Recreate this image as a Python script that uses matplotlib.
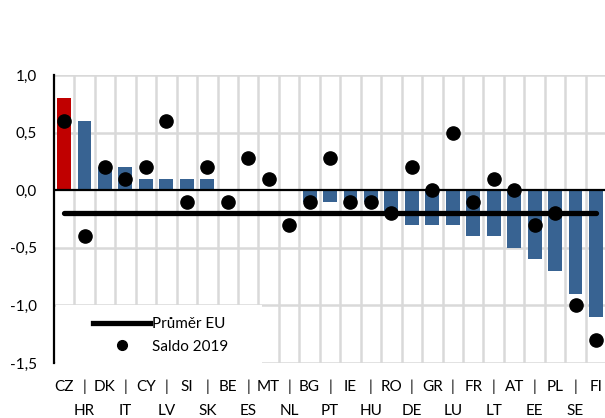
import numpy as np
import matplotlib
matplotlib.use('Agg')
import matplotlib.pyplot as plt
from matplotlib.lines import Line2D
from matplotlib.patches import Rectangle

plt.rcParams['font.family'] = ['Lato', 'DejaVu Sans']

# Data
countries = ['CZ', 'HR', 'DK', 'IT', 'CY', 'LV', 'SI', 'SK', 'BE', 'ES',
             'MT', 'NL', 'BG', 'PT', 'IE', 'HU', 'RO', 'DE', 'GR', 'LU',
             'FR', 'LT', 'AT', 'EE', 'PL', 'SE', 'FI']
change = [0.8, 0.6, 0.2, 0.2, 0.1, 0.1, 0.1, 0.1, 0.0, 0.0,
          0.0, 0.0, -0.1, -0.1, -0.1, -0.1, -0.2, -0.3, -0.3, -0.3,
          -0.4, -0.4, -0.5, -0.6, -0.7, -0.9, -1.1]
saldo_2019 = [0.6, -0.4, 0.2, 0.1, 0.2, 0.6, -0.1, 0.2, -0.1, 0.28,
              0.1, -0.3, -0.1, 0.28, -0.1, -0.1, -0.2, 0.2, 0.0, 0.5,
              -0.1, 0.1, 0.0, -0.3, -0.2, -1.0, -1.3]
eu_avg = -0.2

blue = '#386392'
red = '#C00000'
grid_c = '#D9D9D9'

x = np.arange(len(countries))
colors = [red if c == 'CZ' else blue for c in countries]

fig = plt.figure(figsize=(6.05, 4.18), dpi=100)
ax = fig.add_axes([0.089, 0.1316, 0.913, 0.689])

ax.bar(x, change, width=0.68, color=colors, zorder=2)
ax.plot([x[0], x[-1]], [eu_avg, eu_avg], color='black', lw=3.8,
        solid_capstyle='round', zorder=3)
ax.plot(x, saldo_2019, 'o', color='black', ms=9.5, zorder=4)
ax.axhline(0, color='black', lw=1.6, zorder=3)

ax.set_xlim(-0.5, len(countries) - 0.5)
ax.set_ylim(-1.5, 1.0)
ax.set_yticks([1.0, 0.5, 0.0, -0.5, -1.0, -1.5])
ax.set_yticklabels(['1,0', '0,5', '0,0', '-0,5', '-1,0', '-1,5'])

# vertical gridlines between categories
for b in np.arange(0.5, len(countries) - 0.5, 1.0):
    ax.axvline(b, color=grid_c, lw=1.8, zorder=0.5)
for yv in [1.0, 0.5, -0.5, -1.0, -1.5]:
    ax.axhline(yv, color=grid_c, lw=1.8, zorder=0.5)

labels = []
for i, c in enumerate(countries):
    labels.append(c if i % 2 == 0 else '|\n' + c)
ax.set_xticks(x)
ax.set_xticklabels(labels, fontsize=11, linespacing=1.85, va='top')
ax.tick_params(axis='x', length=0, pad=12)
ax.tick_params(axis='y', length=0, pad=12, labelsize=11)

for s in ['top', 'right', 'bottom']:
    ax.spines[s].set_visible(False)
ax.spines['left'].set_color('black')
ax.spines['left'].set_linewidth(1.6)
ax.spines['left'].set_zorder(5)

# white box behind the legend covering the gridlines
ax.add_patch(Rectangle((0.004, 0.0), 0.373, 0.2, transform=ax.transAxes,
                       facecolor='white', edgecolor='none', zorder=1))

handles = [Line2D([], [], color='black', lw=3.8),
           Line2D([], [], ls='none', marker='o', color='black', ms=7)]
leg = ax.legend(handles, ['Průměr EU', 'Saldo 2019'], loc='lower left',
                bbox_to_anchor=(0.055, 0.0), frameon=False, fontsize=11,
                handlelength=3.7, handletextpad=0.15, labelspacing=0.55,
                borderaxespad=0.2)
leg.set_zorder(6)

fig.savefig('out.png', dpi=100)
